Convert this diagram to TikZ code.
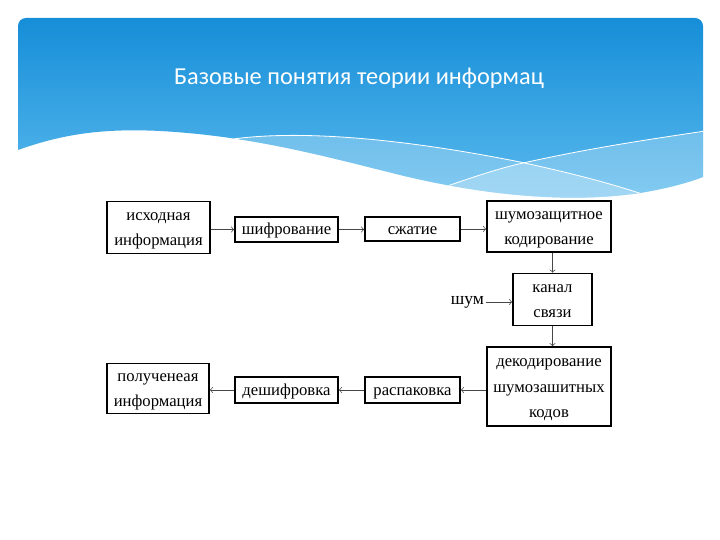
\documentclass[tikz,border=0pt]{standalone}
\usepackage{fontspec}
\setmainfont{Liberation Serif}
\newfontfamily\titlefont{Carlito}
\definecolor{headtop}{RGB}{22,142,216}
\definecolor{headbottom}{RGB}{92,187,238}
\definecolor{linkgray}{RGB}{70,70,70}
\usetikzlibrary{arrows,positioning}

\begin{document}
\begin{tikzpicture}[x=0.6pt, y=-0.6pt,
    box/.style={rectangle, draw=black, line width=1pt, inner sep=0pt,
                align=center, font=\fontsize{10}{15.4}\selectfont, text depth=1pt},
    onebox/.style={box, text height=7.6pt},
    twobox/.style={box, text height=23pt},
    threebox/.style={box, text height=38.4pt},
    arrow/.style={->, thin, linkgray}]
\useasboundingbox (0,0) rectangle (720,540);

% Header with waves
\begin{scope}
\clip (18,150) -- (18,26) arc[start angle=180, end angle=270, radius=8]
    -- (695,18) arc[start angle=270, end angle=360, radius=8] -- (703,177)
    .. controls (690,182) and (670,188) .. (640,193)
    .. controls (560,205) and (470,192) .. (400,175)
    .. controls (320,155) and (250,136) .. (160,131)
    .. controls (100,128) and (60,135) .. (18,150) -- cycle;
\shade[top color=headtop, bottom color=headbottom] (18,18) rectangle (703,205);
\fill[white, opacity=0.25] (233,139) .. controls (300,130) and (400,138) .. (520,162)
    .. controls (580,175) and (620,186) .. (660,200) -- (660,215) -- (233,215) -- cycle;
\fill[white, opacity=0.25] (430,192) .. controls (470,178) and (500,168) .. (523,163)
    .. controls (600,146) and (660,138) .. (705,131) -- (705,215) -- (430,215) -- cycle;
\draw[white, line width=0.5pt] (233,139) .. controls (300,130) and (400,138) .. (520,162)
    .. controls (580,175) and (620,186) .. (660,200);
\draw[white, line width=0.5pt] (430,192) .. controls (470,178) and (500,168) .. (523,163)
    .. controls (600,146) and (660,138) .. (705,131);
\end{scope}
\node[font=\titlefont\fontsize{14.6}{17}\selectfont, text=white] (title) at (359,78) {Базовые понятия теории информац};

% Top row
\node[twobox, minimum width=61.8pt, minimum height=31.2pt] (src) at (158.5,227.5) {исходная\\информация};
\node[onebox, minimum width=61.8pt, minimum height=15pt] (enc) at (286.5,229.5) {шифрование};
\node[onebox, minimum width=57pt, minimum height=14.4pt] (zip) at (412.5,229) {сжатие};
\node[twobox, minimum width=74.4pt, minimum height=30.6pt] (ecc) at (549,226.5) {шумозащитное\\кодирование};

% Channel
\node[twobox, minimum width=47.4pt, minimum height=31.2pt] (chan) at (552.5,299.5) {канал\\связи};
\node[font=\fontsize{10.5}{12}\selectfont, inner sep=1pt, anchor=east] (noise) at (486,302) {шум};

% Bottom row
\node[threebox, minimum width=74.4pt, minimum height=47.4pt] (dec) at (549,386.5) {декодирование\\шумозашитных\\кодов};
\node[onebox, minimum width=57pt, minimum height=15.6pt] (unzip) at (412.5,390) {распаковка};
\node[onebox, minimum width=61.8pt, minimum height=15.6pt] (dcr) at (286.5,390) {дешифровка};
\node[twobox, minimum width=61.2pt, minimum height=30pt] (dst) at (158,388.5) {полученеая\\информация};

% Arrows
\draw[arrow] (src.east |- enc.west) -- (enc.west);
\draw[arrow] (enc.east) -- (zip.west |- enc.east);
\draw[arrow] (zip.east) -- (ecc.west |- zip.east);
\draw[arrow] (ecc.south -| chan.north) -- (chan.north);
\draw[arrow] (noise.east) -- (chan.west |- noise.east);
\draw[arrow] (chan.south) -- (dec.north -| chan.south);
\draw[arrow] (dec.west |- unzip.east) -- (unzip.east);
\draw[arrow] (unzip.west) -- (dcr.east |- unzip.west);
\draw[arrow] (dcr.west) -- (dst.east |- dcr.west);
\end{tikzpicture}
\end{document}
